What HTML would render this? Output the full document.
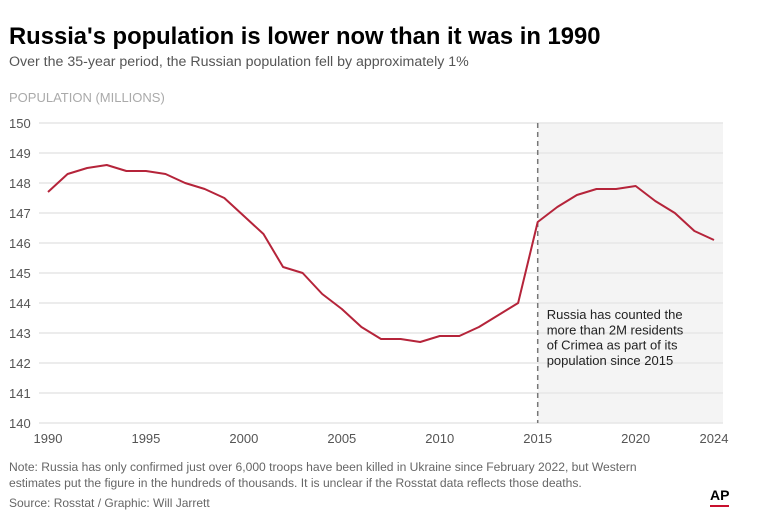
<!DOCTYPE html>
<html><head><meta charset="utf-8"><style>
body{margin:0;background:#fff;width:763px;height:529px;overflow:hidden;font-family:"Liberation Sans",sans-serif;}
</style></head><body>
<svg width="763" height="529" style="position:absolute;left:0;top:0">
<text x="9" y="44" font-size="23.8" font-weight="bold" fill="#000">Russia's population is lower now than it was in 1990</text>
<text x="9" y="66" font-size="14.2" fill="#555">Over the 35-year period, the Russian population fell by approximately 1%</text>
<text x="9" y="102" font-size="13" fill="#aaa">POPULATION (MILLIONS)</text>
<g id="plot"></g>
<text x="9" y="471" font-size="12.1" fill="#666">Note: Russia has only confirmed just over 6,000 troops have been killed in Ukraine since February 2022, but Western</text>
<text x="9" y="487" font-size="12.1" fill="#666">estimates put the figure in the hundreds of thousands. It is unclear if the Rosstat data reflects those deaths.</text>
<text x="9" y="507" font-size="12" fill="#666">Source: Rosstat / Graphic: Will Jarrett</text>
<text x="710" y="500" font-size="14" font-weight="bold" fill="#000">AP</text>
<rect x="710" y="505" width="19" height="2" fill="#c8102e"/>
</svg>
<script>
const years=[1990,1991,1992,1993,1994,1995,1996,1997,1998,1999,2000,2001,2002,2003,2004,2005,2006,2007,2008,2009,2010,2011,2012,2013,2014,2015,2016,2017,2018,2019,2020,2021,2022,2023,2024];
const population=[147.7,148.3,148.5,148.6,148.4,148.4,148.3,148.0,147.8,147.5,146.9,146.3,145.2,145.0,144.3,143.8,143.2,142.8,142.8,142.7,142.9,142.9,143.2,143.6,144.0,146.7,147.2,147.6,147.8,147.8,147.9,147.4,147.0,146.4,146.1];
const yTicks=[140,141,142,143,144,145,146,147,148,149,150];
const xTicks=[1990,1995,2000,2005,2010,2015,2020,2024];
const crimeaYear=2015;
const NS="http://www.w3.org/2000/svg";
const g=document.getElementById('plot');
const x=v=>48+(v-1990)*(714-48)/34;
const y=v=>423-(v-140)*30;
function mk(t,a){const e=document.createElementNS(NS,t);for(const k in a)e.setAttribute(k,a[k]);g.appendChild(e);return e;}
let r=mk('rect',{x:x(crimeaYear),y:y(150),width:723-x(crimeaYear),height:y(140)-y(150),fill:'#f4f4f4'});


yTicks.forEach(t=>{
  let l=mk('line',{x1:39,x2:723,y1:y(t),y2:y(t),stroke:'#e6e6e6','stroke-width':1.5});
  
  
  let tx=mk('text',{x:9,y:y(t)+5,'font-size':13,fill:'#555'});
  tx.textContent=t;
  
  
});
xTicks.forEach(t=>{
  let tx=mk('text',{x:x(t),y:443,'font-size':13,fill:'#555','text-anchor':'middle'});
  tx.textContent=t;
  
  
});
let d=mk('line',{x1:x(crimeaYear),x2:x(crimeaYear),y1:y(150),y2:y(140),stroke:'#777','stroke-width':1.5,'stroke-dasharray':'5,4'});


const ann=["Russia has counted the","more than 2M residents","of Crimea as part of its","population since 2015"];
ann.forEach((s,i)=>{
  let tx=mk('text',{x:x(crimeaYear)+9,y:319+i*15.3,'font-size':13,fill:'#222'});
  tx.textContent=s;
  
  
});
let p=mk('polyline',{points:years.map((yr,i)=>x(yr)+','+y(population[i])).join(' '),fill:'none',stroke:'#b5243a','stroke-width':2,'stroke-linejoin':'round'});


</script>
</body></html>
